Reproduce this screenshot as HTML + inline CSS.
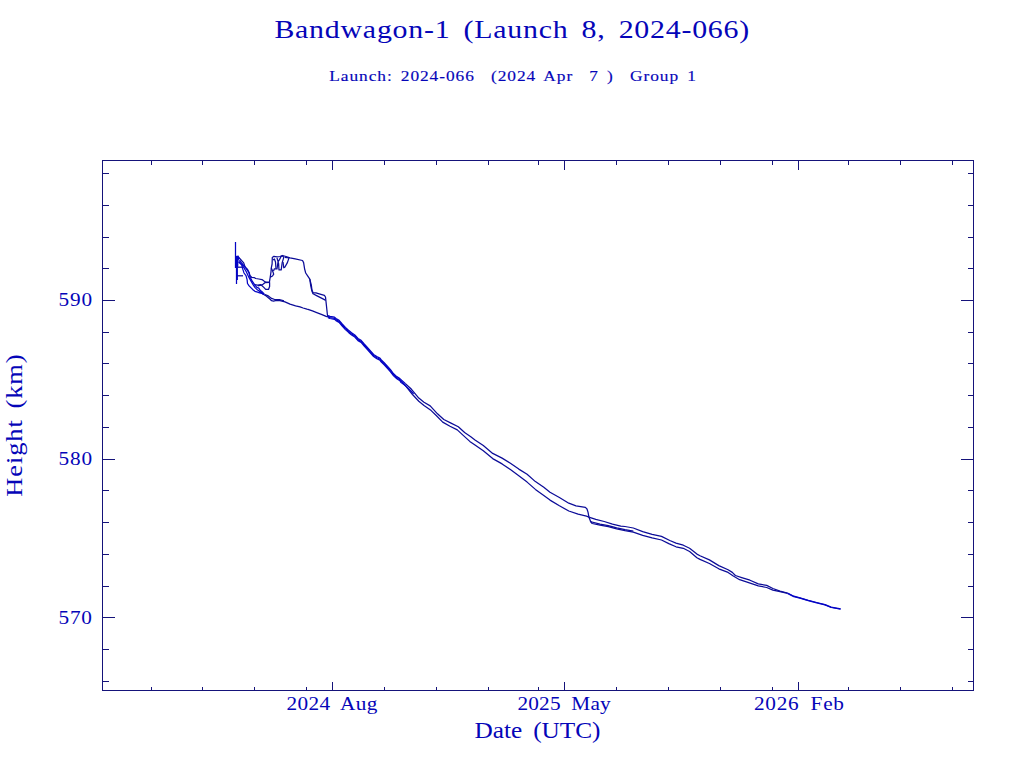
<!DOCTYPE html>
<html><head><meta charset="utf-8"><title>Bandwagon-1 (Launch 8, 2024-066)</title><style>
html,body{margin:0;padding:0;background:#fff;overflow:hidden;}
svg{display:block;}
text{white-space:pre;}
</style></head><body>
<svg width="1024" height="768" viewBox="0 0 1024 768">
<rect width="1024" height="768" fill="#fff"/>
<path d="M102 160H974V161H102ZM973 160H974V691H973ZM102 690H974V691H102ZM102 160H103V691H102ZM103 681H109V682H103ZM968 681H973V682H968ZM103 649H109V650H103ZM968 649H973V650H968ZM103 617H115V618H103ZM961 617H973V618H961ZM103 586H109V587H103ZM968 586H973V587H968ZM103 554H109V555H103ZM968 554H973V555H968ZM103 522H109V523H103ZM968 522H973V523H968ZM103 490H109V491H103ZM968 490H973V491H968ZM103 459H115V460H103ZM961 459H973V460H961ZM103 427H109V428H103ZM968 427H973V428H968ZM103 395H109V396H103ZM968 395H973V396H968ZM103 363H109V364H103ZM968 363H973V364H968ZM103 332H109V333H103ZM968 332H973V333H968ZM103 300H115V301H103ZM961 300H973V301H961ZM103 268H109V269H103ZM968 268H973V269H968ZM103 237H109V238H103ZM968 237H973V238H968ZM103 205H109V206H103ZM968 205H973V206H968ZM103 173H109V174H103ZM968 173H973V174H968ZM332 682H333V690H332ZM332 161H333V170H332ZM564 682H565V690H564ZM564 161H565V170H564ZM798 682H799V690H798ZM798 161H799V170H798ZM151 687H152V690H151ZM151 161H152V165H151ZM202 687H203V690H202ZM202 161H203V165H202ZM254 687H255V690H254ZM254 161H255V165H254ZM306 687H307V690H306ZM306 161H307V165H306ZM384 687H385V690H384ZM384 161H385V165H384ZM436 687H437V690H436ZM436 161H437V165H436ZM488 687H489V690H488ZM488 161H489V165H488ZM538 687H539V690H538ZM538 161H539V165H538ZM616 687H617V690H616ZM616 161H617V165H616ZM668 687H669V690H668ZM668 161H669V165H668ZM720 687H721V690H720ZM720 161H721V165H720ZM772 687H773V690H772ZM772 161H773V165H772ZM848 687H849V690H848ZM848 161H849V165H848ZM900 687H901V690H900ZM900 161H901V165H900ZM952 687H953V690H952ZM952 161H953V165H952Z" fill="#15137a" shape-rendering="crispEdges"/>
<g stroke="#0c0c98" stroke-width="1.25" fill="none" stroke-linejoin="round">
<path d="M405.2 383.5 411.5 389.3 418.8 398.1 424.0 402.3 430.2 405.9 437.5 413.8 443.8 419.5 451.0 423.1 458.3 426.8 464.6 432.5 470.8 436.7 475.0 439.9 483.3 445.6 492.7 453.4 502.1 458.1 510.4 463.3 518.8 469.1 527.1 474.3 535.4 481.6 543.8 487.3 550.0 492.3 559.4 497.5 568.8 503.2 576.0 505.8 585.4 507.4 587.0 509.0 588.0 512.1 589.0 517.3 590.6 521.5 592.2 523.5 600.0 525.1 608.3 526.7 616.7 528.8 625.0 530.6 633.3 532.2 642.7 535.3 652.1 537.9 661.5 540.0 668.8 543.6 676.0 546.8 683.3 548.3 689.6 551.5 696.9 557.7 700.0 559.4 709.4 563.5 718.8 568.8 728.1 572.4 733.3 576.0 739.6 579.7 747.9 582.3 758.3 585.9 766.7 587.5 772.9 590.1 780.0 591.7 787.5 593.4"/>
<path d="M406.2 386.7 412.5 394.5 418.8 401.2 424.0 405.4 431.2 410.6 436.5 415.8 442.7 422.1 450.0 426.2 457.3 429.9 463.5 435.6 469.8 441.4 475.0 445.1 483.3 450.8 492.7 458.6 502.1 463.9 510.4 469.6 518.8 475.8 527.1 482.1 535.4 489.4 543.8 495.6 550.0 500.1 559.4 505.8 568.8 511.0 578.1 514.2 586.5 516.2 589.6 517.3 595.8 519.4 604.2 521.5 612.5 524.1 620.8 526.1 625.0 526.5 633.3 528.0 642.7 531.7 652.1 534.3 661.5 536.4 669.8 540.5 676.0 543.1 683.3 545.2 689.6 548.3 696.9 554.1 700.0 555.7 709.4 559.9 718.8 565.6 728.1 569.8 732.3 572.4 735.4 575.5 741.7 577.6 750.0 580.2 758.3 583.9 766.7 585.4 772.9 588.5 780.0 591.1 787.5 593.0"/>
<path d="M590.0 521.5 600.0 524.1 608.3 525.7 616.7 527.8 625.0 529.6 633.3 531.2"/>
<path d="M259.0 291.7 261.8 292.9 263.8 294.5 265.7 295.6 267.7 297.2 269.6 298.8 271.6 300.7 273.5 301.1 275.5 300.7 277.4 300.3 280.0 300.7 285.0 301.9 290.0 304.1 295.6 305.8 300.0 306.9 303.1 308.0 306.9 309.1 308.0 309.3 312.4 310.9 317.4 312.8 322.0 314.6 326.1 316.3 328.0 316.8"/>
<path d="M265.0 294.5 267.7 295.6 271.6 298.4 274.7 299.5 279.4 299.5 284.0 300.8"/>
<path d="M238.5 257.5 239.5 258.2 241.5 260.5 243.7 262.9 244.9 266.4 246.3 268.2 247.6 269.5 249.1 272.5 249.9 275.5 251.8 277.5 254.5 277.7 255.7 278.5 258.8 279.0 262.0 279.6 264.3 281.2 265.9 282.2 269.4 282.4 269.8 279.6 270.2 277.3 271.0 271.8 271.3 267.9 272.1 264.0 272.3 257.4 273.9 256.3 277.0 256.9 280.0 256.5 282.4 255.5 286.0 256.5 290.0 257.9 295.2 258.9 302.5 260.5 303.6 262.6 304.6 268.8 305.7 273.0 307.8 276.1 309.8 279.2 311.4 285.5 311.9 289.7 313.0 292.8 316.0 292.8 319.2 293.8 324.4 295.4 325.5 297.0 326.5 306.3 327.5 315.7 330.0 318.3"/>
<path d="M271.3 267.9 272.9 271.8 273.7 274.2 272.5 276.0 270.2 277.3"/>
<path d="M309.8 279.2 310.6 285.0 311.9 291.0 313.0 293.8 317.1 295.9 324.4 299.6 325.5 300.5"/>
<path d="M273.5 271.0 274.4 268.8 277.0 268.8 278.0 262.0 279.6 259.4 281.2 256.3 282.7 255.8 283.8 257.4 282.2 262.6 281.2 269.9 279.0 269.9 278.6 263.6 277.0 257.9"/>
<path d="M284.8 257.4 289.0 257.9 287.4 262.6 284.8 267.3 283.8 267.8 283.0 262.0"/>
<path d="M273.0 260.0 274.4 259.0 275.5 262.0 276.0 268.8"/>
<path d="M254.5 284.7 257.7 285.1 260.8 284.7 261.8 285.5 263.8 287.4 265.7 289.4 268.5 289.4 269.6 286.6 269.6 282.3"/>
<path d="M257.7 285.8 261.0 285.2 263.0 284.3 264.9 282.7 269.6 282.3"/>
<path d="M237.9 267.2 242.2 267.2"/>
<path d="M237.0 275.8 243.0 275.8"/>
</g>
<g stroke="#0404c4" stroke-width="1.25" fill="none" stroke-linejoin="round">
<path d="M328.0 315.6 330.0 316.4 334.5 317.2 336.0 318.5 339.1 320.3 342.2 324.0 345.4 327.5 348.5 330.3 351.6 332.8 354.8 335.0 358.0 338.5 361.1 340.3 364.2 344.0 367.4 347.5 370.5 350.9 373.6 354.4 376.8 356.6 379.9 358.0 381.1 359.7 384.2 362.8 387.4 366.2 390.5 369.7 393.6 373.8 396.8 376.6 399.9 378.6 405.2 383.5"/>
<path d="M787.5 593.4 793.8 596.6 800.0 598.1 808.3 600.7 816.7 602.8 825.0 604.9 831.2 607.5 840.6 609.1"/>
<path d="M328.0 316.7 330.0 317.5 334.5 318.3 336.0 319.6 339.1 321.4 342.2 325.1 345.4 328.6 348.5 331.4 351.6 333.9 354.8 336.1 358.0 339.6 361.1 341.4 364.2 345.1 367.4 348.6 370.5 352.0 373.6 355.5 376.8 357.7 379.9 359.1 381.1 360.8 384.2 363.9 387.4 367.4 390.5 370.8 393.6 374.9 396.8 377.7 399.9 379.7 406.2 386.7"/>
<path d="M787.5 593.0 793.8 596.2 800.0 597.8 808.3 600.4 816.7 602.5 825.0 604.6 831.2 607.2 840.6 608.8"/>
<path d="M328.0 317.7 330.0 318.5 334.5 319.3 336.0 320.6 339.1 322.4 342.2 326.1 345.4 329.6 348.5 332.4 351.6 334.9 354.8 337.1 358.0 340.6 361.1 342.4 364.2 346.1 367.4 349.6 370.5 353.0 373.6 356.5 376.8 358.7 379.9 360.1 381.1 361.8 384.2 364.9 387.4 368.4 390.5 371.8 393.6 375.9 396.8 378.7 399.9 380.7 401.1 382.6 404.2 384.8 407.4 387.6 410.5 390.4 413.6 393.8"/>
<path d="M239.5 260.0 242.0 263.5 244.0 266.0 246.3 268.7 249.1 273.0 249.9 276.9 251.8 280.4 253.4 282.8 254.9 285.1 256.9 287.4 258.8 288.2 260.4 290.6 262.4 292.1 264.3 294.0"/>
<path d="M239.0 261.5 242.0 265.0 244.0 267.9 246.3 271.8 248.7 276.9 250.2 279.6 251.8 282.4 253.4 285.1 254.9 287.4 256.9 289.4 259.6 291.3 261.6 292.9 264.0 294.5"/>
<path d="M238.6 262.1 241.8 264.8 242.5 268.4 243.7 271.9 244.0 273.0 246.0 275.7 247.1 279.6 247.5 283.5 249.1 285.9 250.6 287.4 252.6 289.4 254.9 291.3 257.7 292.1 259.6 292.9 262.0 293.5 264.0 294.5"/>
<path d="M237.3 259.8 237.3 280.0"/>
<path d="M235.5 242.0 235.5 268.0"/>
<path d="M236.5 256.0 236.5 284.0"/>
</g>
<path d="M235.5 256L238.5 255.6L240 258.5L238.6 260L238.2 267.5L235.5 267.5Z" fill="#0404c4"/>
<g fill="#0505b8" font-family="Liberation Serif, serif">
<text transform="translate(274.4 38) scale(1.15 1)" font-size="26" textLength="412.88" lengthAdjust="spacing" word-spacing="4.3">Bandwagon-1 (Launch 8, 2024-066)</text>
<text transform="translate(329.2 80.6) scale(1.12 1)" font-size="15.5" textLength="327.33" lengthAdjust="spacing" stroke="#0505b8" stroke-width="0.15" word-spacing="2.5">Launch: 2024-066  (2024 Apr  7 )  Group 1</text>
<text transform="translate(58.55 306) scale(1.12 1)" font-size="19" textLength="29.92" lengthAdjust="spacing">590</text>
<text transform="translate(58.55 465) scale(1.12 1)" font-size="19" textLength="29.92" lengthAdjust="spacing">580</text>
<text transform="translate(58.56 623.5) scale(1.12 1)" font-size="19" textLength="29.72" lengthAdjust="spacing">570</text>
<text transform="translate(286.49 710) scale(1.12 1)" font-size="19" textLength="81.08" lengthAdjust="spacing" word-spacing="4.5">2024 Aug</text>
<text transform="translate(517.48 710) scale(1.12 1)" font-size="19" textLength="83.24" lengthAdjust="spacing" word-spacing="4.5">2025 May</text>
<text transform="translate(753.99 710) scale(1.12 1)" font-size="19" textLength="80.38" lengthAdjust="spacing" word-spacing="4.5">2026 Feb</text>
<text transform="translate(474.59 738.3) scale(1.1 1)" font-size="23" textLength="114.39" lengthAdjust="spacing" word-spacing="4.5">Date (UTC)</text>
<text transform="translate(22 496.65) rotate(-90) scale(1.1 1)" font-size="24" textLength="129.34" lengthAdjust="spacing" word-spacing="3">Height (km)</text>
</g>
</svg>
</body></html>
